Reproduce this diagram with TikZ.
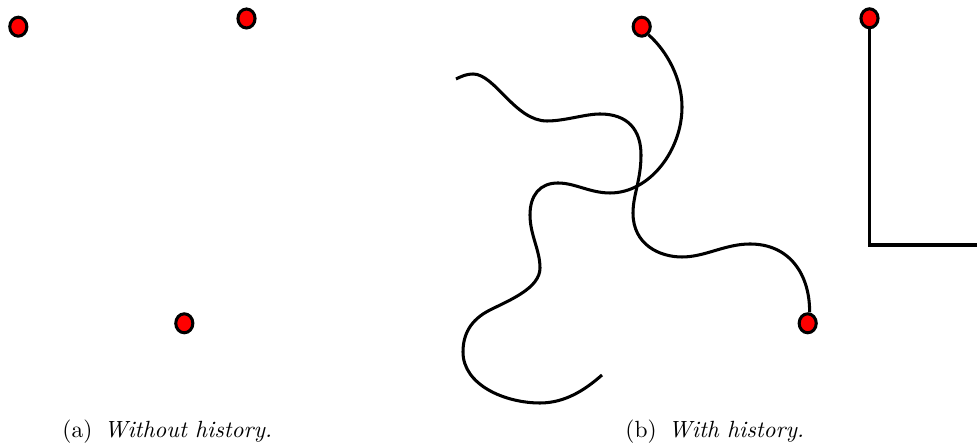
\documentclass[tikz,border=0pt]{standalone}
\usepackage{tikz}
\usetikzlibrary{shapes.geometric}

\begin{document}
\begin{tikzpicture}[
  x=0.015cm, y=-0.015cm,
  every node/.style={font=\normalsize},
  dotnode/.style={ellipse, draw=black, fill=red, line width=1.3pt, minimum width=7.3pt, minimum height=8.1pt, inner sep=0pt},
  trail/.style={draw=black, line width=1.3pt},
  capnode/.style={anchor=base west, inner sep=0pt},
]
\useasboundingbox (0,0) rectangle (977,445);

% Left side: positions only
\node[dotnode] (a1) at (18.3, 26.7) {};
\node[dotnode] (a2) at (246.5, 18.5) {};
\node[dotnode] (a3) at (184.3, 323.3) {};

\node[capnode] (capa) at (62, 438) {(a)\enspace\textit{Without history.}};

% Right side: positions with their trails
\node[dotnode] (b1) at (641.7, 26.7) {};
\node[dotnode] (b2) at (807.7, 323.3) {};
\node[dotnode] (b3) at (869.5, 18.3) {};

\coordinate (endone) at (602, 375);
\coordinate (starttwo) at (456, 79);
\coordinate (endthree) at (980, 245);

% first trail, from the top dot
\draw[trail] (b1.-50) .. controls (668,52) and (682,80) .. (682,107)
  .. controls (682,150) and (650,193) .. (610,193)
  .. controls (590,193) and (575,183) .. (558,183)
  .. controls (540,183) and (530,195) .. (530,215)
  .. controls (530,235) and (540,250) .. (540,268)
  .. controls (540,288) and (510,300) .. (490,310)
  .. controls (470,320) and (463,335) .. (463,352)
  .. controls (463,385) and (505,403) .. (540,403)
  .. controls (565,403) and (585,390) .. (endone);

% second trail, into the lower dot
\draw[trail] (starttwo) .. controls (462,76) and (467,74) .. (473,74)
  .. controls (495,74) and (515,121) .. (547,121)
  .. controls (565,121) and (585,114) .. (600,114)
  .. controls (628,114) and (641,130) .. (641,155)
  .. controls (641,180) and (633,195) .. (633,213)
  .. controls (633,245) and (660,257) .. (682,257)
  .. controls (705,257) and (725,244) .. (750,244)
  .. controls (790,244) and (810,275) .. (b2.80);

% third trail, straight segments
\draw[trail] (b3.south) -- (869.5, 245) -- (endthree);

\node[capnode] (capb) at (625, 438) {(b)\enspace\textit{With history.}};

\end{tikzpicture}
\end{document}
